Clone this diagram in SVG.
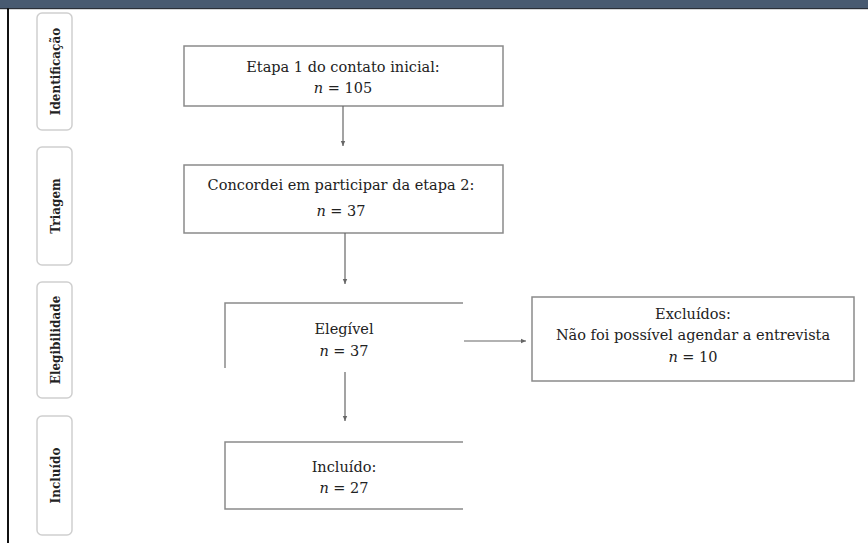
<svg xmlns="http://www.w3.org/2000/svg" width="868" height="543" viewBox="0 0 868 543">
<defs>
<marker id="ah" markerWidth="6" markerHeight="6" refX="5" refY="3" orient="auto" markerUnits="userSpaceOnUse">
<path d="M0,0.8 L5,3 L0,5.2 z" fill="#666"/>
</marker>
<style>
.tab{fill:#fff;stroke:#cfcfcf;stroke-width:1.5}
.tl{font-family:"DejaVu Serif","Liberation Serif",serif;font-weight:bold;font-size:12px;fill:#222;text-anchor:middle}
.box{fill:#fff;stroke:#8a8a8a;stroke-width:1.5}
.open{fill:none;stroke:#8a8a8a;stroke-width:1.5}
.t{font-family:"DejaVu Serif","Liberation Serif",serif;font-size:14.5px;fill:#222;text-anchor:middle}
.n{font-style:italic}
.c{stroke:#666;stroke-width:1.2;fill:none;marker-end:url(#ah)}
</style>
</defs>
<rect x="0" y="0" width="868" height="543" fill="#fff"/>
<rect x="0" y="0" width="868" height="8" fill="#485a71"/>
<rect x="0" y="8" width="868" height="1.2" fill="#2a2f38"/>
<rect x="7" y="8" width="2" height="535" fill="#111"/>

<g id="tab-identificacao"><rect class="tab" x="37" y="13" width="35" height="117" rx="5"/><text class="tl" transform="translate(59.5,71.5) rotate(-90)">Identificação</text></g>
<g id="tab-triagem"><rect class="tab" x="37" y="147" width="35" height="118" rx="5"/><text class="tl" transform="translate(59.5,206) rotate(-90)">Triagem</text></g>
<g id="tab-elegibilidade"><rect class="tab" x="37" y="282" width="35" height="116" rx="5"/><text class="tl" transform="translate(59.5,340) rotate(-90)">Elegibilidade</text></g>
<g id="tab-incluido"><rect class="tab" x="37" y="416" width="35" height="119" rx="5"/><text class="tl" transform="translate(59.5,475.5) rotate(-90)">Incluído</text></g>

<g id="box-etapa1"><rect class="box" x="184" y="46" width="319" height="60"/>
<text class="t" x="343" y="72">Etapa 1 do contato inicial:</text>
<text class="t" x="343" y="93"><tspan class="n">n</tspan> = 105</text></g>

<g id="box-concordei"><rect class="box" x="184" y="165" width="319" height="68"/>
<text class="t" x="341" y="190">Concordei em participar da etapa 2:</text>
<text class="t" x="341" y="216"><tspan class="n">n</tspan> = 37</text></g>

<g id="box-elegivel"><path class="open" d="M463,303 H225 V368"/>
<text class="t" x="344" y="334">Elegível</text>
<text class="t" x="344" y="356"><tspan class="n">n</tspan> = 37</text></g>

<g id="box-incluido"><path class="open" d="M463,442 H225 V509 H463"/>
<text class="t" x="344" y="472">Incluído:</text>
<text class="t" x="344" y="493"><tspan class="n">n</tspan> = 27</text></g>

<g id="box-excluidos"><rect class="box" x="532" y="297" width="322" height="84"/>
<text class="t" x="693" y="319">Excluídos:</text>
<text class="t" x="693" y="340">Não foi possível agendar a entrevista</text>
<text class="t" x="693" y="362"><tspan class="n">n</tspan> = 10</text></g>

<g id="connectors">
<line class="c" x1="343" y1="106" x2="343" y2="146"/>
<line class="c" x1="345" y1="233" x2="345" y2="284"/>
<line class="c" x1="345" y1="372" x2="345" y2="421"/>
<line class="c" x1="464" y1="341" x2="526" y2="341"/>
</g>
</svg>
